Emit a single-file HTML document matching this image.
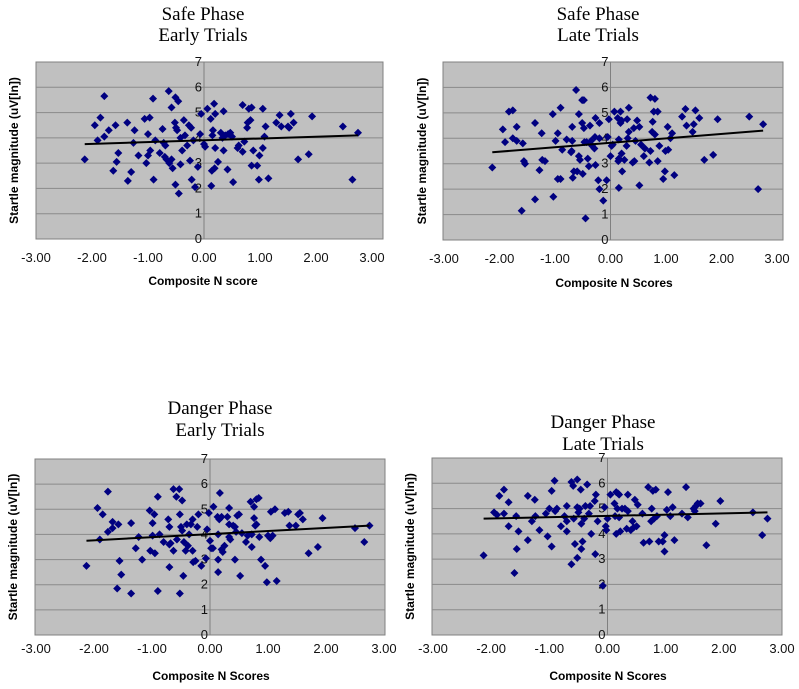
<!DOCTYPE html>
<html><head><meta charset="utf-8"><style>
body{margin:0;background:#fff;}
svg{display:block;}
.tt{font-family:"Liberation Serif",serif;font-size:19px;fill:#000;}
.tk{font-family:"Liberation Sans",sans-serif;font-size:13px;fill:#111;}
.at{font-family:"Liberation Sans",sans-serif;font-size:12px;font-weight:bold;fill:#000;}
</style></head><body>
<svg id="page" width="799" height="689" viewBox="0 0 799 689" xmlns="http://www.w3.org/2000/svg"></svg>
<script>
const xTicks=[-3,-2,-1,0,1,2,3];
const yTicks=[0,1,2,3,4,5,6,7];
const titles1=["Safe Phase","Early Trials"];
const titles2=["Safe Phase","Late Trials"];
const titles3=["Danger Phase","Early Trials"];
const titles4=["Danger Phase","Late Trials"];
const xTitles=["Composite N score","Composite N Scores","Composite N Scores","Composite N Scores"];
const trend1=[[-2.13,3.75],[2.75,4.1]];
const trend2=[[-2.13,3.45],[2.75,4.3]];
const trend3=[[-2.13,3.75],[2.75,4.35]];
const trend4=[[-2.13,4.6],[2.75,4.85]];
const data1=[[-2.13,3.15],[-1.95,4.5],[-1.9,3.9],[-1.85,4.8],[-1.78,5.65],[-1.78,4.05],[-1.7,4.3],[-1.62,2.7],[-1.58,4.5],[-1.56,3.05],[-1.53,3.4],[-1.37,4.6],[-1.36,2.3],[-1.3,2.65],[-1.26,3.8],[-1.24,4.3],[-1.17,3.3],[-1.06,4.75],[-1.03,3.0],[-1.0,4.15],[-1.0,3.3],[-0.97,4.8],[-0.96,3.5],[-0.91,5.55],[-0.9,2.35],[-0.87,3.9],[-0.79,3.4],[-0.74,4.35],[-0.72,3.8],[-0.7,3.25],[-0.69,3.7],[-0.67,3.15],[-0.63,5.85],[-0.62,3.0],[-0.58,5.2],[-0.58,3.15],[-0.56,2.8],[-0.52,4.6],[-0.51,5.6],[-0.51,2.15],[-0.5,4.4],[-0.48,4.3],[-0.46,5.45],[-0.45,1.8],[-0.42,2.95],[-0.42,4.0],[-0.39,3.5],[-0.36,4.7],[-0.34,4.1],[-0.3,3.7],[-0.27,4.5],[-0.25,3.1],[-0.23,4.4],[-0.22,2.35],[-0.19,3.9],[-0.16,2.05],[-0.11,2.85],[-0.07,4.15],[-0.05,4.95],[0.0,3.75],[0.02,3.65],[0.06,5.15],[0.12,4.75],[0.13,2.1],[0.14,2.7],[0.15,4.1],[0.16,4.3],[0.18,5.35],[0.2,3.6],[0.2,4.95],[0.19,2.8],[0.25,3.05],[0.3,4.2],[0.33,4.0],[0.35,5.05],[0.35,3.5],[0.38,4.1],[0.42,2.75],[0.43,4.15],[0.47,4.2],[0.5,4.05],[0.52,2.25],[0.6,3.6],[0.62,3.7],[0.69,5.3],[0.69,3.45],[0.72,3.85],[0.77,4.4],[0.78,4.6],[0.8,5.15],[0.83,4.7],[0.85,5.2],[0.85,2.9],[0.88,3.5],[0.95,2.9],[0.98,2.35],[0.99,3.3],[1.05,5.15],[1.05,3.6],[1.08,4.05],[1.1,4.45],[1.15,2.4],[1.29,4.6],[1.35,4.9],[1.38,4.45],[1.5,4.45],[1.52,4.4],[1.55,4.95],[1.6,4.6],[1.68,3.15],[1.87,3.35],[1.93,4.85],[2.48,4.45],[2.65,2.35],[2.75,4.2]];
const data2=[[-2.13,2.85],[-1.94,4.35],[-1.9,3.85],[-1.83,5.05],[-1.76,5.1],[-1.76,4.0],[-1.69,4.45],[-1.69,3.9],[-1.6,1.15],[-1.58,3.8],[-1.56,3.1],[-1.54,3.0],[-1.36,4.6],[-1.36,1.6],[-1.28,2.75],[-1.24,4.2],[-1.23,3.15],[-1.18,3.1],[-1.04,4.95],[-1.03,1.7],[-0.99,3.9],[-0.95,4.2],[-0.95,2.4],[-0.9,5.2],[-0.9,2.4],[-0.87,3.55],[-0.79,3.95],[-0.71,3.45],[-0.7,3.5],[-0.69,4.45],[-0.69,3.9],[-0.68,2.45],[-0.66,2.7],[-0.62,5.9],[-0.6,2.7],[-0.57,4.95],[-0.57,3.3],[-0.55,3.15],[-0.51,5.5],[-0.51,4.6],[-0.5,2.6],[-0.48,5.5],[-0.48,4.4],[-0.47,3.85],[-0.45,0.85],[-0.43,3.85],[-0.41,3.2],[-0.39,2.9],[-0.37,4.5],[-0.35,3.9],[-0.33,3.7],[-0.29,3.6],[-0.28,4.05],[-0.27,4.8],[-0.27,2.95],[-0.22,2.35],[-0.2,4.6],[-0.2,4.0],[-0.2,2.0],[-0.13,1.55],[-0.07,2.35],[-0.05,4.05],[-0.03,4.75],[0.0,3.3],[0.02,3.7],[0.04,3.75],[0.07,5.05],[0.13,4.8],[0.14,3.1],[0.15,3.95],[0.15,3.2],[0.15,2.05],[0.18,5.05],[0.18,4.6],[0.2,4.7],[0.2,3.4],[0.21,2.7],[0.25,3.15],[0.29,3.7],[0.3,4.75],[0.31,4.0],[0.33,5.2],[0.33,4.25],[0.4,3.05],[0.42,4.4],[0.43,3.1],[0.45,3.9],[0.48,4.7],[0.52,4.45],[0.52,2.15],[0.55,3.75],[0.6,3.3],[0.62,3.6],[0.7,3.05],[0.72,3.5],[0.72,5.6],[0.75,4.25],[0.76,4.65],[0.78,5.05],[0.8,5.55],[0.8,4.15],[0.85,5.05],[0.85,3.1],[0.88,3.7],[0.95,2.4],[0.98,2.7],[0.99,3.5],[1.03,4.45],[1.04,3.55],[1.08,4.0],[1.11,4.2],[1.15,2.55],[1.29,4.85],[1.35,5.15],[1.37,4.5],[1.48,4.25],[1.5,4.55],[1.53,5.1],[1.6,4.8],[1.69,3.15],[1.85,3.35],[1.93,4.75],[2.5,4.85],[2.66,2.0],[2.75,4.55]];
const data3=[[-2.13,2.75],[-1.94,5.05],[-1.9,3.8],[-1.85,4.8],[-1.76,5.7],[-1.76,4.1],[-1.68,4.5],[-1.68,4.25],[-1.6,1.85],[-1.58,4.4],[-1.56,2.95],[-1.53,2.4],[-1.36,4.45],[-1.36,1.65],[-1.28,3.45],[-1.23,3.9],[-1.17,3.0],[-1.04,4.95],[-1.03,3.35],[-0.99,4.45],[-0.99,3.95],[-0.96,4.8],[-0.95,3.25],[-0.9,5.5],[-0.9,1.75],[-0.87,4.0],[-0.8,3.7],[-0.72,4.6],[-0.7,4.3],[-0.7,3.6],[-0.7,2.7],[-0.68,3.65],[-0.63,5.8],[-0.63,3.35],[-0.58,5.5],[-0.57,3.8],[-0.53,5.8],[-0.52,4.8],[-0.52,1.65],[-0.5,4.3],[-0.48,5.35],[-0.48,4.15],[-0.46,2.35],[-0.45,3.7],[-0.42,3.35],[-0.4,4.4],[-0.38,3.55],[-0.36,4.0],[-0.33,4.4],[-0.3,4.6],[-0.3,3.35],[-0.29,2.9],[-0.25,2.95],[-0.22,4.3],[-0.2,4.8],[-0.15,2.75],[-0.07,3.05],[-0.05,4.2],[-0.02,4.85],[0.0,3.75],[0.02,3.45],[0.05,3.45],[0.06,5.1],[0.13,4.7],[0.14,4.0],[0.14,3.0],[0.14,2.5],[0.16,4.6],[0.17,5.65],[0.2,4.7],[0.2,3.4],[0.22,3.3],[0.25,3.55],[0.3,4.7],[0.33,4.4],[0.33,3.9],[0.33,5.05],[0.35,3.8],[0.4,4.35],[0.43,4.3],[0.43,3.0],[0.45,4.1],[0.47,4.75],[0.5,4.8],[0.52,2.35],[0.55,4.05],[0.62,3.7],[0.65,3.95],[0.7,5.3],[0.72,3.5],[0.72,4.0],[0.76,4.65],[0.76,5.1],[0.78,4.35],[0.8,5.4],[0.8,4.4],[0.84,5.45],[0.85,3.9],[0.88,3.0],[0.95,2.75],[0.98,2.1],[1.0,3.95],[1.04,3.85],[1.05,4.9],[1.08,3.95],[1.12,5.0],[1.15,2.15],[1.29,4.85],[1.35,4.9],[1.37,4.35],[1.48,4.35],[1.52,4.8],[1.55,4.85],[1.6,4.6],[1.7,3.25],[1.86,3.5],[1.94,4.65],[2.5,4.25],[2.66,3.7],[2.75,4.35]];
const data4=[[-2.13,3.15],[-1.95,4.85],[-1.9,4.75],[-1.86,5.5],[-1.78,5.75],[-1.78,4.8],[-1.7,5.25],[-1.7,4.3],[-1.6,2.45],[-1.57,4.7],[-1.56,3.4],[-1.53,4.1],[-1.37,5.5],[-1.37,3.75],[-1.3,4.5],[-1.25,5.35],[-1.24,4.7],[-1.17,4.15],[-1.06,4.8],[-1.03,3.9],[-1.0,5.0],[-0.96,5.7],[-0.96,3.5],[-0.91,6.1],[-0.9,4.9],[-0.87,5.0],[-0.8,4.3],[-0.74,4.7],[-0.7,5.1],[-0.7,4.5],[-0.7,4.1],[-0.62,6.05],[-0.62,2.8],[-0.59,5.9],[-0.58,4.6],[-0.56,3.6],[-0.52,6.15],[-0.52,5.05],[-0.52,3.05],[-0.5,4.85],[-0.48,5.0],[-0.46,5.75],[-0.45,4.4],[-0.45,3.4],[-0.43,3.7],[-0.4,4.6],[-0.38,5.1],[-0.35,5.95],[-0.32,4.8],[-0.3,5.1],[-0.28,4.0],[-0.22,5.3],[-0.21,3.2],[-0.2,5.55],[-0.17,4.5],[-0.08,1.95],[-0.05,5.05],[-0.03,4.3],[-0.02,4.15],[0.0,4.6],[0.05,5.55],[0.12,5.2],[0.13,4.7],[0.15,5.65],[0.15,4.0],[0.17,5.0],[0.18,5.6],[0.2,5.55],[0.2,4.65],[0.22,4.1],[0.25,5.0],[0.3,5.0],[0.33,4.2],[0.35,5.55],[0.35,4.9],[0.4,4.15],[0.43,4.5],[0.45,4.25],[0.47,5.35],[0.5,4.3],[0.52,5.15],[0.6,4.8],[0.62,3.65],[0.7,5.85],[0.72,3.7],[0.75,4.5],[0.76,5.0],[0.78,5.7],[0.8,4.6],[0.83,5.75],[0.85,4.7],[0.88,3.7],[0.95,3.7],[0.98,3.95],[0.98,3.3],[1.02,4.95],[1.04,5.65],[1.08,4.7],[1.12,5.05],[1.15,3.75],[1.28,4.8],[1.35,5.85],[1.38,4.65],[1.48,5.0],[1.5,4.9],[1.52,5.1],[1.55,5.2],[1.6,5.2],[1.7,3.55],[1.86,4.4],[1.94,5.3],[2.5,4.85],[2.66,3.95],[2.75,4.6]];

const NS="http://www.w3.org/2000/svg";
const svg=document.getElementById('page');
function mk(tag,attrs,parent){const e=document.createElementNS(NS,tag);for(const k in attrs)e.setAttribute(k,attrs[k]);(parent||svg).appendChild(e);return e;}

const layouts=[
 {name:'safe-early',pl:36,pr:383,pt:62,pb:239,x0:36,x1:372,tx:203,ty:[14,35],ytx:14,xtx:203,xty:281,tky:258,data:data1,trend:trend1,titles:titles1},
 {name:'safe-late',pl:443,pr:783,pt:62,pb:240,x0:444,x1:777,tx:598,ty:[14,35],ytx:422,xtx:614,xty:283,tky:259,data:data2,trend:trend2,titles:titles2},
 {name:'danger-early',pl:35,pr:385,pt:459,pb:635,x0:36,x1:384,tx:220,ty:[408,430],ytx:13,xtx:211,xty:676,tky:649,data:data3,trend:trend3,titles:titles3},
 {name:'danger-late',pl:432,pr:782,pt:458,pb:635,x0:433,x1:782,tx:603,ty:[422,444],ytx:410,xtx:608,xty:676,tky:649,data:data4,trend:trend4,titles:titles4}
];

layouts.forEach((L,i)=>{
 const g=mk('g',{});
 
 
 const sx=v=>L.x0+(v+3)/6*(L.x1-L.x0);
 const sy=v=>L.pb-v/7*(L.pb-L.pt);
 const bg=mk('rect',{x:L.pl,y:L.pt,width:L.pr-L.pl,height:L.pb-L.pt,fill:'#c0c0c0',stroke:'#808080','stroke-width':1},g);
 
 
 yTicks.forEach(t=>{
  if(t>0&&t<7){const gl=mk('line',{x1:L.pl,x2:L.pr,y1:sy(t),y2:sy(t),stroke:'#8a8a8a','stroke-width':1},g);
  
  }
 });
 const ax=mk('line',{x1:sx(0),x2:sx(0),y1:L.pt,y2:L.pb,stroke:'#808080','stroke-width':1},g);
 
 
 yTicks.forEach(t=>{
  const tl=mk('text',{x:sx(0)-2,y:sy(t)+4,'text-anchor':'end',class:'tk'},g);
  tl.textContent=String(t);
  
  
 });
 xTicks.forEach(t=>{
  const tl=mk('text',{x:sx(t),y:L.tky+4,'text-anchor':'middle',class:'tk'},g);
  tl.textContent=t.toFixed(2);
  
  
 });
 L.data.forEach(p=>{
  const x=sx(p[0]),y=sy(p[1]);
  const d=mk('polygon',{points:`${x},${y-4} ${x+4},${y} ${x},${y+4} ${x-4},${y}`,fill:'#000080'},g);
  
  
 });
 const tr=mk('line',{x1:sx(L.trend[0][0]),y1:sy(L.trend[0][1]),x2:sx(L.trend[1][0]),y2:sy(L.trend[1][1]),stroke:'#000','stroke-width':2},g);
 
 
 L.titles.forEach((t,k)=>{
  const te=mk('text',{x:L.tx,y:L.ty[k]+6,'text-anchor':'middle',class:'tt'},g);
  te.textContent=t;
  
  
 });
 const yt=mk('text',{x:0,y:0,'text-anchor':'middle',class:'at',transform:`translate(${L.ytx+4},${(L.pt+L.pb)/2}) rotate(-90)`},g);
 yt.textContent='Startle magnitude (uV[ln])';
 
 
 const xt=mk('text',{x:L.xtx,y:L.xty+4,'text-anchor':'middle',class:'at'},g);
 xt.textContent=xTitles[i];
 
 
});
</script>
</body></html>
